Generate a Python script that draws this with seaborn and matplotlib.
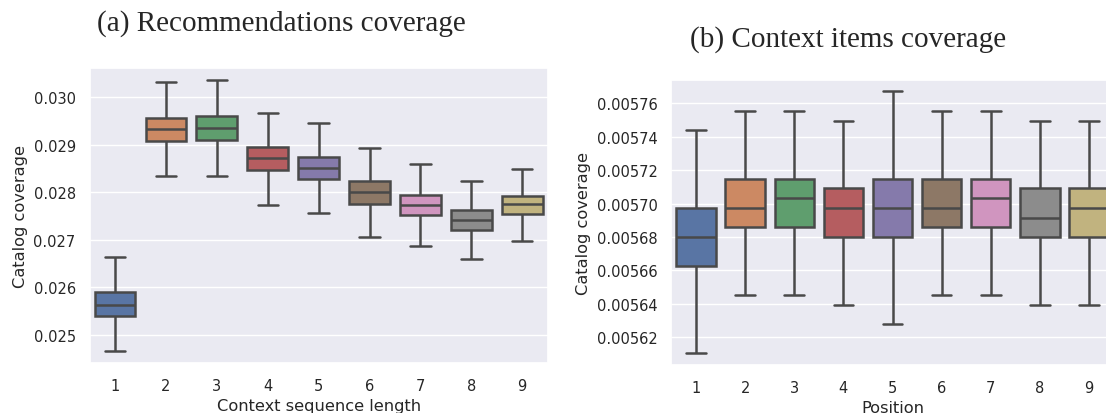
import numpy as np
import pandas as pd
import matplotlib
matplotlib.use("Agg")
import matplotlib.pyplot as plt
from matplotlib.ticker import FormatStrFormatter
import seaborn as sns

# ---- data: five-number summaries (whisker low, Q1, median, Q3, whisker high) ----
lengths = ["1", "2", "3", "4", "5", "6", "7", "8", "9"]
rec_low = [0.024656, 0.028352, 0.028338, 0.027742, 0.027574, 0.027069, 0.026879, 0.026606, 0.026985]
rec_q1 = [0.025400, 0.029074, 0.029102, 0.028464, 0.028275, 0.027764, 0.027518, 0.027216, 0.027553]
rec_med = [0.025631, 0.029327, 0.029355, 0.028724, 0.028513, 0.028002, 0.027742, 0.027426, 0.027756]
rec_q3 = [0.025897, 0.029565, 0.029600, 0.028955, 0.028752, 0.028233, 0.027945, 0.027630, 0.027931]
rec_high = [0.026634, 0.030316, 0.030365, 0.029670, 0.029467, 0.028934, 0.028590, 0.028240, 0.028492]

positions = ["1", "2", "3", "4", "5", "6", "7", "8", "9"]
ctx_low = [0.0056104, 0.0056453, 0.0056453, 0.0056395, 0.0056278, 0.0056453, 0.0056453, 0.0056395, 0.0056395]
ctx_q1 = [0.0056625, 0.0056858, 0.0056858, 0.0056798, 0.0056798, 0.0056858, 0.0056858, 0.0056798, 0.0056798]
ctx_med = [0.0056798, 0.0056974, 0.0057034, 0.0056974, 0.0056974, 0.0056974, 0.0057034, 0.0056916, 0.0056974]
ctx_q3 = [0.0056974, 0.0057149, 0.0057149, 0.0057091, 0.0057149, 0.0057149, 0.0057149, 0.0057091, 0.0057091]
ctx_high = [0.0057440, 0.0057554, 0.0057554, 0.0057496, 0.0057672, 0.0057554, 0.0057554, 0.0057496, 0.0057496]

rec_yticks = [0.025, 0.026, 0.027, 0.028, 0.029, 0.030]
ctx_yticks = [0.00562, 0.00564, 0.00566, 0.00568, 0.00570, 0.00572, 0.00574, 0.00576]


def long_table(cats, *cols):
    rows = []
    for i, c in enumerate(cats):
        for col in cols:
            rows.append({"cat": c, "value": col[i]})
    return pd.DataFrame(rows)


rec_df = long_table(lengths, rec_low, rec_q1, rec_med, rec_q3, rec_high)
ctx_df = long_table(positions, ctx_low, ctx_q1, ctx_med, ctx_q3, ctx_high)

sns.set_theme(style="darkgrid")
plt.rcParams["font.family"] = ["DejaVu Sans"]
plt.rcParams["ytick.major.pad"] = 10
plt.rcParams["xtick.major.pad"] = 10.5

W, H = 1106, 414
fig = plt.figure(figsize=(W / 100, H / 100), dpi=100)

ax1 = fig.add_axes([89.6 / W, (H - 364) / H, (547.7 - 89.6) / W, (364 - 68.5) / H])
ax2 = fig.add_axes([671.4 / W, (H - 366) / H, (1113.6 - 671.4) / W, (366 - 80.5) / H])

for ax, df, order, yt, ylim, fmt, xlabel in [
    (ax1, rec_df, lengths, rec_yticks, (0.024411, 0.030627), "%.3f", "Context sequence length"),
    (ax2, ctx_df, positions, ctx_yticks, (0.0056034, 0.0057742), "%.5f", "Position"),
]:
    sns.boxplot(data=df, x="cat", y="value", hue="cat", order=order, hue_order=order,
                palette="deep", legend=False, whis=np.inf, linewidth=1.8, ax=ax)
    ax.set_ylim(*ylim)
    ax.set_yticks(yt)
    ax.yaxis.set_major_formatter(FormatStrFormatter(fmt))
    ax.set_xlabel(xlabel, fontsize=11.7, color=".15")
    ax.set_ylabel("Catalog coverage", fontsize=11.7, color=".15")
    ax.tick_params(axis="both", labelsize=10.5, length=0, colors=".15")

fig.text(97 / W, 1 - 31 / H, "(a) Recommendations coverage", family="Liberation Serif",
         fontsize=21, ha="left", va="baseline")
fig.text(690 / W, 1 - 47 / H, "(b) Context items coverage", family="Liberation Serif",
         fontsize=21, ha="left", va="baseline")

fig.savefig("out.png", dpi=100)
